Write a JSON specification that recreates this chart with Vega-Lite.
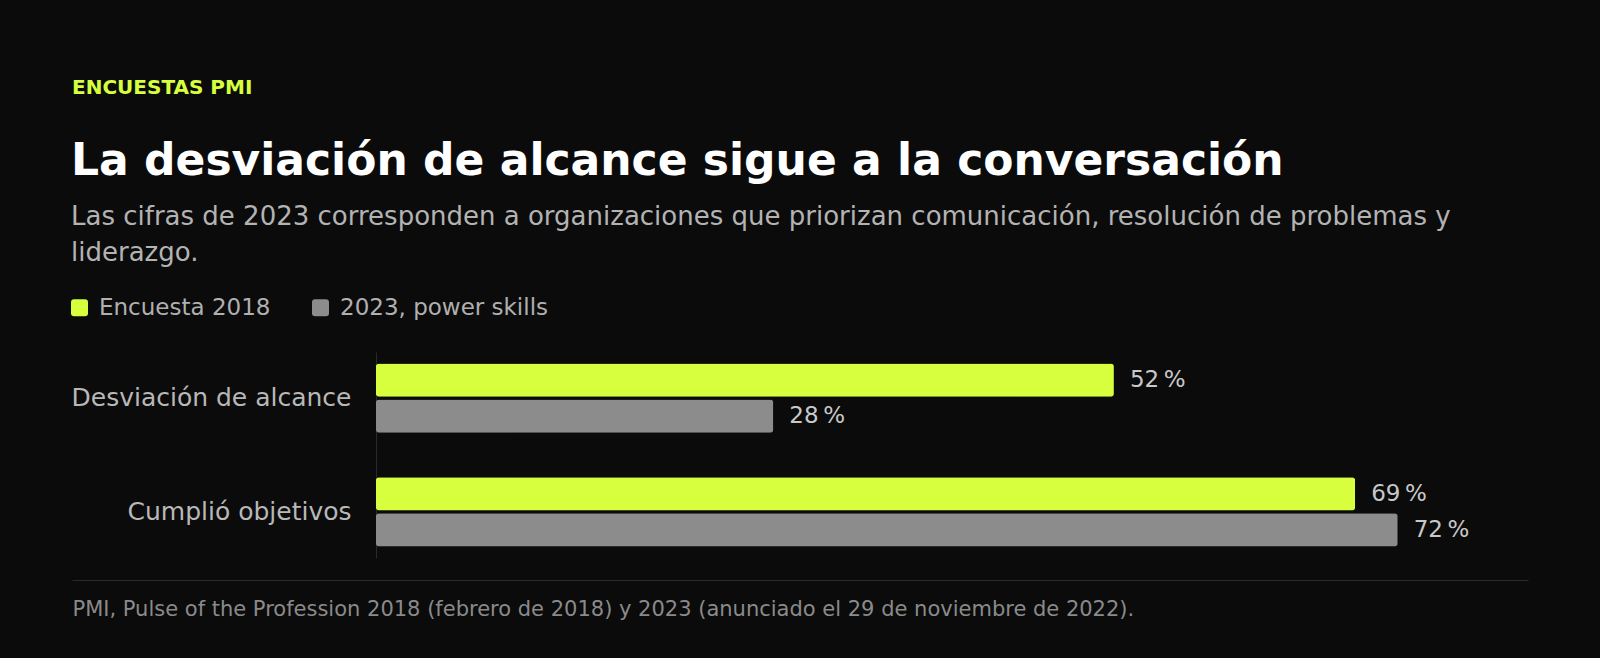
{
  "$schema": "https://vega.github.io/schema/vega-lite/v6.json",
  "background": "#0b0b0b",
  "padding": {"left": 68, "top": 78, "right": 72, "bottom": 42},
  "title": {
    "text": "ENCUESTAS PMI",
    "anchor": "start",
    "dx": 4,
    "color": "#d8ff3e",
    "fontSize": 20,
    "fontWeight": "bold",
    "offset": 42
  },
  "vconcat": [
    {
      "title": {
        "text": "La desviación de alcance sigue a la conversación",
        "subtitle": [
          "Las cifras de 2023 corresponden a organizaciones que priorizan comunicación, resolución de problemas y",
          "liderazgo."
        ],
        "anchor": "start",
        "fontSize": 44,
        "fontWeight": "bold",
        "color": "#ffffff",
        "subtitleFontSize": 26,
        "subtitleColor": "#b3b3b3",
        "subtitleLineHeight": 36,
        "subtitlePadding": 20,
        "offset": 86
      },
      "width": 1456,
      "height": 206,
      "data": {
        "values": [
          {"categoria": "Desviación de alcance", "serie": "Encuesta 2018", "valor": 52, "etiqueta": "52\u202f%"},
          {"categoria": "Desviación de alcance", "serie": "2023, power skills", "valor": 28, "etiqueta": "28\u202f%"},
          {"categoria": "Cumplió objetivos", "serie": "Encuesta 2018", "valor": 69, "etiqueta": "69\u202f%"},
          {"categoria": "Cumplió objetivos", "serie": "2023, power skills", "valor": 72, "etiqueta": "72\u202f%"}
        ]
      },
      "encoding": {
        "y": {
          "field": "categoria",
          "type": "nominal",
          "sort": null,
          "scale": {"paddingInner": 0.39, "paddingOuter": 0.1},
          "axis": {
            "title": null,
            "offset": -304,
            "ticks": false,
            "labelFontSize": 25,
            "labelColor": "#b8b8b8",
            "labelPadding": 25,
            "labelLimit": 400,
            "domainColor": "#2a2a2a",
            "domainWidth": 1,
            "grid": false
          }
        },
        "yOffset": {
          "field": "serie",
          "type": "nominal",
          "sort": ["Encuesta 2018", "2023, power skills"],
          "scale": {"paddingInner": 0.08}
        },
        "x": {
          "field": "valor",
          "type": "quantitative",
          "scale": {"domain": [-21.42, 81.18], "nice": false, "zero": false},
          "axis": {
            "title": "PMI, Pulse of the Profession 2018 (febrero de 2018) y 2023 (anunciado el 29 de noviembre de 2022).",
            "titleAnchor": "start",
            "titleAlign": "left",
            "titleFontSize": 21,
            "titleFontWeight": "normal",
            "titleColor": "#8a8a8a",
            "titlePadding": 18,
            "labels": false,
            "ticks": false,
            "grid": false,
            "offset": 22,
            "domainColor": "#2a2a2a",
            "domainWidth": 1
          }
        }
      },
      "layer": [
        {
          "mark": {"type": "bar", "cornerRadius": 3},
          "encoding": {
            "color": {
              "field": "serie",
              "type": "nominal",
              "scale": {
                "domain": ["Encuesta 2018", "2023, power skills"],
                "range": ["#d8ff3e", "#8c8c8c"]
              },
              "legend": {
                "title": null,
                "orient": "none",
                "legendX": -4,
                "legendY": -56,
                "padding": 0,
                "direction": "horizontal",
                "symbolType": "M -0.65 -1 H 0.65 Q 1 -1 1 -0.65 V 0.65 Q 1 1 0.65 1 H -0.65 Q -1 1 -1 0.65 V -0.65 Q -1 -1 -0.65 -1 Z",
                "symbolSize": 289,
                "symbolStrokeWidth": 0,
                "labelFontSize": 23,
                "labelColor": "#b0b0b0",
                "labelOffset": 8,
                "labelLimit": 400,
                "columnPadding": 38
              }
            }
          }
        },
        {
          "mark": {"type": "text", "align": "left", "baseline": "middle", "dx": 16, "fontSize": 23, "color": "#c8c8c8"},
          "encoding": {"text": {"field": "etiqueta", "type": "nominal"}}
        }
      ]
    }
  ],
  "config": {
    "font": "DejaVu Sans",
    "view": {"stroke": null}
  }
}
